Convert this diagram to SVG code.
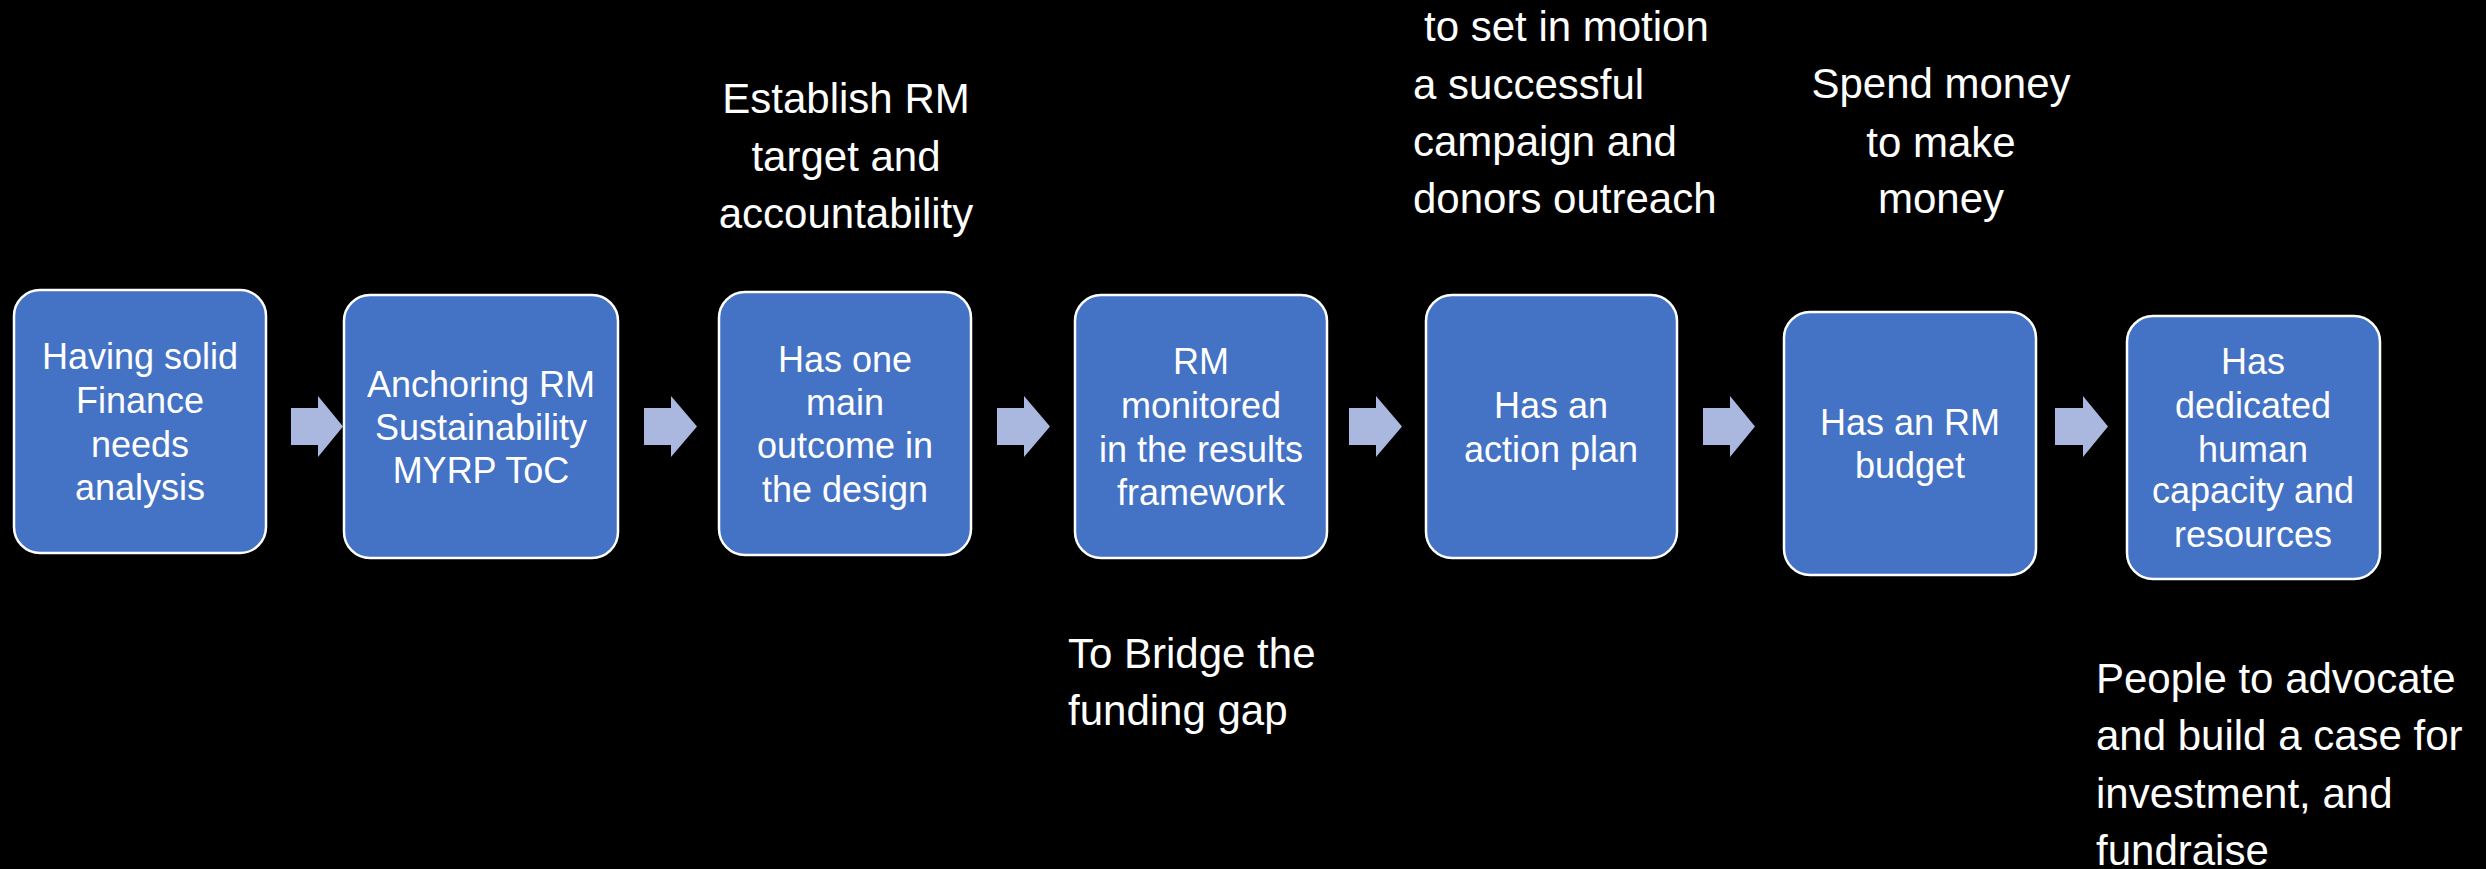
<svg xmlns="http://www.w3.org/2000/svg" width="2486" height="869" viewBox="0 0 2486 869">
<style>
.box{fill:#4472C4;stroke:#FFFFFF;stroke-width:2.5}
.bt{font-family:"Liberation Sans",Arial,sans-serif;font-size:36px;fill:#FFFFFF;text-anchor:middle}
.ot{font-family:"Liberation Sans",Arial,sans-serif;font-size:42px;fill:#FFFFFF}
.arr{fill:#AAB8E0}
</style>
<rect x="0" y="0" width="2486" height="869" fill="#000000"/>
<g id="connectors">
<polygon class="arr" points="291,408 318,408 318,396 343,426.5 318,457 318,445 291,445"/>
<polygon class="arr" points="644,408 671,408 671,396 697,426.5 671,457 671,445 644,445"/>
<polygon class="arr" points="997,408 1024,408 1024,396 1050,426.5 1024,457 1024,445 997,445"/>
<polygon class="arr" points="1349,408 1376,408 1376,396 1402,426.5 1376,457 1376,445 1349,445"/>
<polygon class="arr" points="1703,408 1730,408 1730,396 1755,426.5 1730,457 1730,445 1703,445"/>
<polygon class="arr" points="2055,408 2083,408 2083,396 2108,426.5 2083,457 2083,445 2055,445"/>
</g>
<g id="n1">
<rect class="box" x="14" y="290" width="252" height="263" rx="26"/>
<text class="bt" x="140"><tspan x="140" y="369">Having solid</tspan><tspan x="140" y="413">Finance</tspan><tspan x="140" y="457">needs</tspan><tspan x="140" y="500">analysis</tspan></text>
</g>
<g id="n2">
<rect class="box" x="344" y="295" width="274" height="263" rx="26"/>
<text class="bt"><tspan x="481" y="397">Anchoring RM</tspan><tspan x="481" y="440">Sustainability</tspan><tspan x="481" y="483">MYRP ToC</tspan></text>
</g>
<g id="n3">
<rect class="box" x="719" y="292" width="252" height="263" rx="26"/>
<text class="bt"><tspan x="845" y="372">Has one</tspan><tspan x="845" y="415">main</tspan><tspan x="845" y="458">outcome in</tspan><tspan x="845" y="502">the design</tspan></text>
</g>
<g id="n4">
<rect class="box" x="1075" y="295" width="252" height="263" rx="26"/>
<text class="bt"><tspan x="1201" y="374">RM</tspan><tspan x="1201" y="418">monitored</tspan><tspan x="1201" y="462">in the results</tspan><tspan x="1201" y="505">framework</tspan></text>
</g>
<g id="n5">
<rect class="box" x="1426" y="295" width="251" height="263" rx="26"/>
<text class="bt"><tspan x="1551" y="418">Has an</tspan><tspan x="1551" y="462">action plan</tspan></text>
</g>
<g id="n6">
<rect class="box" x="1784" y="312" width="252" height="263" rx="26"/>
<text class="bt"><tspan x="1910" y="435">Has an RM</tspan><tspan x="1910" y="478">budget</tspan></text>
</g>
<g id="n7">
<rect class="box" x="2127" y="316" width="253" height="263" rx="26"/>
<text class="bt"><tspan x="2253" y="374">Has</tspan><tspan x="2253" y="418">dedicated</tspan><tspan x="2253" y="462">human</tspan><tspan x="2253" y="503">capacity and</tspan><tspan x="2253" y="547">resources</tspan></text>
</g>
<g id="labels">
<text class="ot" text-anchor="middle"><tspan x="846" y="113">Establish RM</tspan><tspan x="846" y="171">target and</tspan><tspan x="846" y="228">accountability</tspan></text>
<text class="ot"><tspan x="1424" y="41">to set in motion</tspan><tspan x="1413" y="99">a successful</tspan><tspan x="1413" y="156">campaign and</tspan><tspan x="1413" y="213">donors outreach</tspan></text>
<text class="ot" text-anchor="middle"><tspan x="1941" y="98">Spend money</tspan><tspan x="1941" y="157">to make</tspan><tspan x="1941" y="213">money</tspan></text>
<text class="ot"><tspan x="1068" y="668">To Bridge the</tspan><tspan x="1068" y="725">funding gap</tspan></text>
<text class="ot"><tspan x="2096" y="693">People to advocate</tspan><tspan x="2096" y="750">and build a case for</tspan><tspan x="2096" y="808">investment, and</tspan><tspan x="2096" y="865">fundraise</tspan></text>
</g>
</svg>
